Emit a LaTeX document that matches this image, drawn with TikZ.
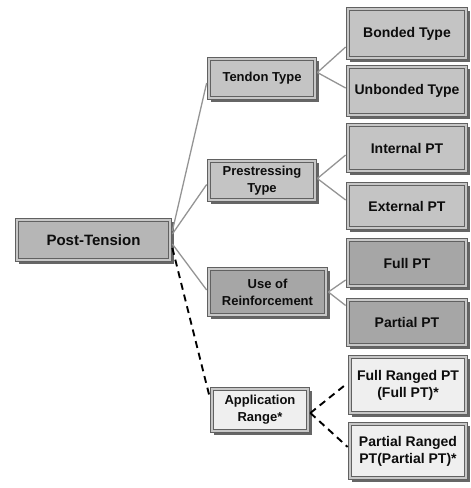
\documentclass[tikz,border=0pt]{standalone}
\usepackage{fontspec}
\setmainfont{Liberation Sans}
\definecolor{faceA}{HTML}{C4C4C4}
\definecolor{faceB}{HTML}{A6A6A6}
\definecolor{faceC}{HTML}{EFEFEF}
\definecolor{faceP}{HTML}{B6B6B6}
\tikzset{
  box/.style={rectangle, draw=black!62, line width=0.7pt, double=white!78!black,
    double distance=2.2pt, align=center, text=black!95, inner sep=1pt,
    font=\bfseries\fontsize{13}{17}\selectfont,
    preaction={fill=black!60, draw=black!60, line width=2pt,
      transform canvas={xshift=2.6pt, yshift=-2.6pt}}},
  big/.style={font=\bfseries\fontsize{14}{17}\selectfont},
  conn/.style={draw=black!42, line width=1.3pt},
  dconn/.style={draw=black, line width=1.9pt, dash pattern=on 7pt off 5pt},
}
\begin{document}
\begin{tikzpicture}[x=1pt,y=-1pt]
\useasboundingbox (0,0) rectangle (471,488);
\node[box, fill=faceP, font=\bfseries\fontsize{15}{17}\selectfont, minimum width=153pt, minimum height=40pt] (PT) at (93.5,240) {Post-Tension};
\node[box, fill=faceA, minimum width=106pt, minimum height=39pt] (TT) at (262,78.5) {Tendon Type};
\node[box, fill=faceA, minimum width=106pt, minimum height=39pt] (PS) at (262,180.5) {Prestressing\\Type};
\node[box, fill=faceB, minimum width=117pt, minimum height=46pt] (UR) at (267.5,292) {Use of\\Reinforcement};
\node[box, fill=faceC, minimum width=96pt, minimum height=42pt] (AR) at (260,410) {Application\\Range*};
% right column
\node[box, big, fill=faceA, minimum width=118pt, minimum height=49pt] (BT) at (407,33.5) {Bonded Type};
\node[box, big, fill=faceA, minimum width=118pt, minimum height=48pt] (UT) at (407,91) {Unbonded Type};
\node[box, big, fill=faceA, minimum width=118pt, minimum height=46pt] (IP) at (407,148) {Internal PT};
\node[box, big, fill=faceA, minimum width=118pt, minimum height=44pt] (EP) at (407,206) {External PT};
\node[box, big, fill=faceB, minimum width=118pt, minimum height=46pt] (FP) at (407,263) {Full PT};
\node[box, big, fill=faceB, minimum width=118pt, minimum height=45pt] (PP) at (407,322.5) {Partial PT};
\node[box, big, fill=faceC, minimum width=116pt, minimum height=56pt] (FR) at (408,385) {Full Ranged PT\\(Full PT)*};
\node[box, big, fill=faceC, minimum width=116pt, minimum height=54pt] (PR) at (408,451) {Partial Ranged\\PT(Partial PT)*};
% connectors
\draw[conn] ([xshift=2pt,yshift=9pt]PT.east) -- ([xshift=-2pt,yshift=-4.5pt]TT.west);
\draw[conn] ([xshift=2pt,yshift=6pt]PT.east) -- ([xshift=-2pt,yshift=-4pt]PS.west);
\draw[conn] ([xshift=2pt,yshift=-4pt]PT.east) -- ([xshift=-2pt,yshift=2pt]UR.west);
\draw[dconn] ([xshift=2pt,yshift=-8pt]PT.east) -- ([xshift=-2pt,yshift=13pt]AR.west);
\draw[conn] ([xshift=2pt,yshift=6pt]TT.east) -- ([xshift=-2pt,yshift=-13.5pt]BT.west);
\draw[conn] ([xshift=2pt,yshift=6pt]TT.east) -- ([xshift=-2pt,yshift=3pt]UT.west);
\draw[conn] ([xshift=2pt,yshift=2pt]PS.east) -- ([xshift=-2pt,yshift=-7pt]IP.west);
\draw[conn] ([xshift=2pt,yshift=2pt]PS.east) -- ([xshift=-2pt,yshift=6pt]EP.west);
\draw[conn] ([xshift=2pt]UR.east) -- ([xshift=-2pt,yshift=-17pt]FP.west);
\draw[conn] ([xshift=2pt]UR.east) -- ([xshift=-2pt,yshift=17pt]PP.west);
\draw[dconn] ([xshift=2pt,yshift=-3pt]AR.east) -- ([xshift=-2pt,yshift=2pt]FR.west);
\draw[dconn] ([xshift=2pt,yshift=-3pt]AR.east) -- ([xshift=-2pt,yshift=4pt]PR.west);
\end{tikzpicture}
\end{document}
